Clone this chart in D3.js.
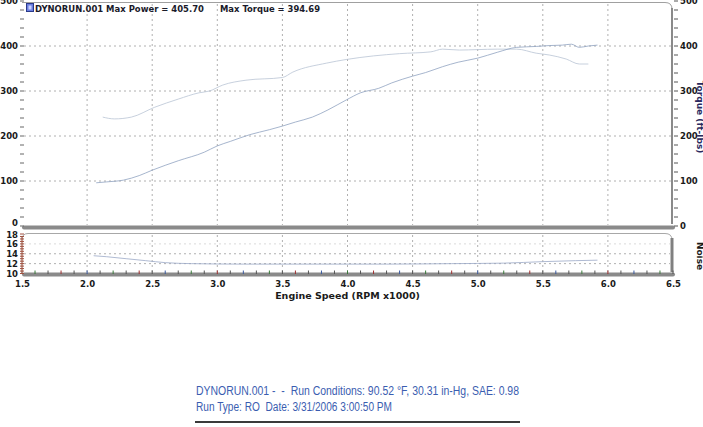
<!DOCTYPE html>
<html><head><meta charset="utf-8">
<script src="https://cdn.jsdelivr.net/npm/d3@7/dist/d3.min.js"></script>
<style>body{margin:0;background:#fff}svg{display:block}text{white-space:pre}</style>
</head><body>
<svg id="c" width="703" height="427"></svg>
<script>
// ---- data ----
const powerRpm = [2.07,2.15,2.28,2.4,2.5,2.7,2.9,3.0,3.1,3.25,3.4,3.5,3.6,3.73,3.85,3.99,4.1,4.24,4.34,4.5,4.6,4.73,4.85,5.0,5.15,5.3,5.45,5.55,5.65,5.72,5.78,5.85,5.92];
const powerHp  = [96,98,102,112,124,145,164,178,188,203,214,222,231,242,258,280,296,306,318,333,341,354,364,373,386,397,399,401,402,404,397,400,402];
const torqueRpm = [2.12,2.21,2.34,2.52,2.7,2.86,2.94,3.04,3.22,3.5,3.58,3.84,3.99,4.2,4.4,4.64,4.73,4.86,5.0,5.15,5.3,5.45,5.55,5.68,5.78,5.85];
const torqueFtLb = [242,238,242,264,282,296,300,313,324,330,342,362,370,378,383,387,393,391,392,393,393,384,380,371,360,360];
const noiseRpm = [2.05,2.15,2.3,2.45,2.6,2.8,3.2,3.8,4.3,4.8,5.2,5.5,5.75,5.92];
const noiseVal = [13.6,13.4,13.0,12.6,12.2,12.0,11.9,11.9,11.9,12.0,12.1,12.4,12.6,12.7];
const xTicks = [1.5,2.0,2.5,3.0,3.5,4.0,4.5,5.0,5.5,6.0,6.5];
const yTicks = [0,100,200,300,400,500];
const y2Ticks = [10,12,14,16,18];
const titleMain = "DYNORUN.001 Max Power = 405.70";
const titleTorque = "Max Torque = 394.69";
const xLabel = "Engine Speed (RPM x1000)";
const rightLabel = "Torque (ft-lbs)";
const lowerLabel = "Noise";
const footer1 = "DYNORUN.001 -  -  Run Conditions: 90.52 \u00B0F, 30.31 in-Hg, SAE: 0.98";
const footer2 = "Run Type: RO  Date: 3/31/2006 3:00:50 PM";

// ---- layout ----
const svg = d3.select("#c");
const X0 = 22, X1 = 673;
const x = d3.scaleLinear().domain([1.5,6.5]).range([X0,X1]);
const y = d3.scaleLinear().domain([0,500]).range([226,1]);
const y2 = d3.scaleLinear().domain([10,18]).range([273.5,234]);
const boldFont = "DejaVu Sans, Verdana, sans-serif";

const defs = svg.append("defs");
const gL = defs.append("linearGradient").attr("id","gl").attr("x1",0).attr("y1",0).attr("x2",0).attr("y2",1);
gL.append("stop").attr("offset","0%").attr("stop-color","#7c78c8");
gL.append("stop").attr("offset","60%").attr("stop-color","#7a9ad0");
gL.append("stop").attr("offset","100%").attr("stop-color","#62b0a0");
const gR = defs.append("linearGradient").attr("id","gr").attr("x1",0).attr("y1",0).attr("x2",0).attr("y2",1);
gR.append("stop").attr("offset","0%").attr("stop-color","#66668a");
gR.append("stop").attr("offset","30%").attr("stop-color","#8a8a70");
gR.append("stop").attr("offset","42%").attr("stop-color","#d0c850");
gR.append("stop").attr("offset","55%").attr("stop-color","#60a8a8");
gR.append("stop").attr("offset","70%").attr("stop-color","#c06868");
gR.append("stop").attr("offset","100%").attr("stop-color","#8a6a90");

// ---- frames ----
svg.append("path")
  .attr("d",`M${X0},2.5 H${X1-8} Q${X1-1},2.5 ${X1-1},9 V224`)
  .attr("fill","none").attr("stroke","#a0a0a0").attr("stroke-width",1);
svg.append("line").attr("x1",X1-1).attr("x2",X1-1).attr("y1",8).attr("y2",224)
  .attr("stroke","#8a8a8a").attr("stroke-width",2);
svg.append("path")
  .attr("d",`M${X0},240 Q${X0},233.5 ${X0+6},233.5 H${X1-8} Q${X1-1},233.5 ${X1-1},240 V272`)
  .attr("fill","none").attr("stroke","#a8a8a8").attr("stroke-width",1);
svg.append("line").attr("x1",X1-1).attr("x2",X1-1).attr("y1",238).attr("y2",272)
  .attr("stroke","#808080").attr("stroke-width",3);

// ---- gridlines ----
const grid = svg.append("g").attr("stroke","#b0b0b0").attr("stroke-width",1).attr("stroke-dasharray","2,3").attr("fill","none");
xTicks.slice(1,-1).forEach(v=>{
  grid.append("line").attr("x1",x(v)).attr("x2",x(v)).attr("y1",4).attr("y2",225);
  grid.append("line").attr("x1",x(v)).attr("x2",x(v)).attr("y1",235).attr("y2",272);
});
yTicks.slice(1,-1).forEach(v=>{
  grid.append("line").attr("x1",X0+2).attr("x2",X1-2).attr("y1",y(v)).attr("y2",y(v));
});
[12,14,16].forEach(v=>{
  grid.append("line").attr("x1",X0+2).attr("x2",X1-3).attr("y1",y2(v)).attr("y2",y2(v))
    .attr("stroke", v===16 ? "#dadada" : "#b0b0b0");
});

// ---- bottom bars ----
svg.append("line").attr("x1",X0+2).attr("x2",X1).attr("y1",227.5).attr("y2",227.5)
  .attr("stroke","#8a8a8a").attr("stroke-width",4).attr("stroke-linecap","round");
svg.append("line").attr("x1",X0+2).attr("x2",X1).attr("y1",274.5).attr("y2",274.5)
  .attr("stroke","#8a8a8a").attr("stroke-width",4).attr("stroke-linecap","round");
const minorX = d3.range(15,66).map(d=>d/10);
const tickCols = ["#555","#3a7a3a","#555","#a03030","#555","#3a5aa0"];
svg.append("g").selectAll("line").data(minorX).join("line")
  .attr("x1",d=>x(d)).attr("x2",d=>x(d)).attr("y1",270.5).attr("y2",274)
  .attr("stroke",(d,i)=>tickCols[i%tickCols.length]).attr("stroke-width",1);

// ---- left / right axis lines ----
svg.append("line").attr("x1",X0).attr("x2",X0).attr("y1",2).attr("y2",226)
  .attr("stroke","url(#gl)").attr("stroke-width",2);
svg.append("line").attr("x1",X0).attr("x2",X0).attr("y1",236).attr("y2",273)
  .attr("stroke","#b08070").attr("stroke-width",1.5);
svg.append("g").selectAll("line").data(d3.range(0,501,20)).join("line")
  .attr("x1",X0-2).attr("x2",X0+2).attr("y1",d=>y(d)).attr("y2",d=>y(d))
  .attr("stroke","#666").attr("stroke-width",1);
svg.append("g").selectAll("line").data(d3.range(10,18.1,0.5)).join("line")
  .attr("x1",X0-2).attr("x2",X0+2).attr("y1",d=>y2(d)).attr("y2",d=>y2(d))
  .attr("stroke","#a05040").attr("stroke-width",1);
svg.append("line").attr("x1",675.5).attr("x2",675.5).attr("y1",2).attr("y2",228)
  .attr("stroke","url(#gr)").attr("stroke-width",3);
svg.append("g").selectAll("line").data(d3.range(0,501,20)).join("line")
  .attr("x1",674).attr("x2",678).attr("y1",d=>y(d)).attr("y2",d=>y(d))
  .attr("stroke","#555").attr("stroke-width",1);

// ---- axes (labels) ----
function styleAxis(g){
  g.select(".domain").remove();
  g.selectAll("line").remove();
  g.selectAll("text").attr("font-family",boldFont).attr("font-weight","bold")
    .attr("font-size",8.5).attr("fill","#1a1a1a");
}
const gy = svg.append("g").attr("transform",`translate(${X0},0)`)
  .call(d3.axisLeft(y).tickValues(yTicks).tickSize(0).tickPadding(4).tickFormat(d3.format("d")))
  .call(styleAxis);
gy.selectAll(".tick").filter(d=>d===0).select("text").attr("dy","-0.05em");
const gy2 = svg.append("g").attr("transform",`translate(${X0},0)`)
  .call(d3.axisLeft(y2).tickValues(y2Ticks).tickSize(0).tickPadding(4).tickFormat(d3.format("d")))
  .call(styleAxis);
gy2.selectAll(".tick").filter(d=>d===18).select("text").attr("dy","0.42em");
svg.append("g").attr("transform",`translate(677,0)`)
  .call(d3.axisRight(y).tickValues(yTicks).tickSize(0).tickPadding(3).tickFormat(d3.format("d")))
  .call(styleAxis);
svg.append("g").attr("transform",`translate(0,276)`)
  .call(d3.axisBottom(x).tickValues(xTicks).tickSize(0).tickPadding(5).tickFormat(d3.format(".1f")))
  .call(styleAxis);

svg.append("text").attr("x",x(4.0)).attr("y",298.5).attr("text-anchor","middle")
  .attr("font-family",boldFont).attr("font-weight","bold").attr("font-size",9.5).attr("fill","#1a1a1a")
  .text(xLabel);

svg.append("text").attr("transform","translate(697,117) rotate(90)").attr("text-anchor","middle")
  .attr("font-family",boldFont).attr("font-weight","bold").attr("font-size",9).attr("fill","#2a2a60")
  .text(rightLabel);
svg.append("text").attr("transform","translate(697,256) rotate(90)").attr("text-anchor","middle")
  .attr("font-family",boldFont).attr("font-weight","bold").attr("font-size",9).attr("fill","#1a1a1a")
  .text(lowerLabel);

// ---- title ----
svg.append("rect").attr("x",26.5).attr("y",3.5).attr("width",7).attr("height",8)
  .attr("fill","#6a7ee0").attr("stroke","#2a3a8a").attr("stroke-width",1);
svg.append("rect").attr("x",28.5).attr("y",5.5).attr("width",3).attr("height",4).attr("fill","#c8d0ff");
svg.append("text").attr("x",35).attr("y",11.5)
  .attr("font-family",boldFont).attr("font-weight","bold").attr("font-size",8.5).attr("fill","#1a1a2a")
  .attr("textLength",169).attr("lengthAdjust","spacingAndGlyphs").text(titleMain);
svg.append("text").attr("x",220).attr("y",11.5)
  .attr("font-family",boldFont).attr("font-weight","bold").attr("font-size",8.5).attr("fill","#1a1a2a")
  .attr("textLength",100).attr("lengthAdjust","spacingAndGlyphs").text(titleTorque);

// ---- curves ----
const line = d3.line().curve(d3.curveMonotoneX);
svg.append("path")
  .attr("d", line.x(d=>x(d[0])).y(d=>y(d[1]))(torqueRpm.map((r,i)=>[r,torqueFtLb[i]])))
  .attr("fill","none").attr("stroke","#b9c4d4").attr("stroke-width",0.8);
svg.append("path")
  .attr("d", line.x(d=>x(d[0])).y(d=>y(d[1]))(powerRpm.map((r,i)=>[r,powerHp[i]])))
  .attr("fill","none").attr("stroke","#8fa2c0").attr("stroke-width",0.8);
svg.append("path")
  .attr("d", line.x(d=>x(d[0])).y(d=>y2(d[1]))(noiseRpm.map((r,i)=>[r,noiseVal[i]])))
  .attr("fill","none").attr("stroke","#9aa8c6").attr("stroke-width",0.8);

// ---- footer ----
const ff = "Liberation Sans Narrow, Arial Narrow, Liberation Sans, Arial, sans-serif";
svg.append("text").attr("x",196).attr("y",395).attr("font-family",ff).attr("font-size",12)
  .attr("xml:space","preserve")
  .attr("fill","#3a5db0").attr("textLength",323).attr("lengthAdjust","spacingAndGlyphs").text(footer1);
svg.append("text").attr("x",196).attr("y",410.5).attr("font-family",ff).attr("font-size",12)
  .attr("xml:space","preserve")
  .attr("fill","#3a5db0").attr("textLength",196).attr("lengthAdjust","spacingAndGlyphs").text(footer2);
svg.append("line").attr("x1",195).attr("x2",520).attr("y1",422).attr("y2",422)
  .attr("stroke","#3a3a3a").attr("stroke-width",2);
</script>
</body></html>
